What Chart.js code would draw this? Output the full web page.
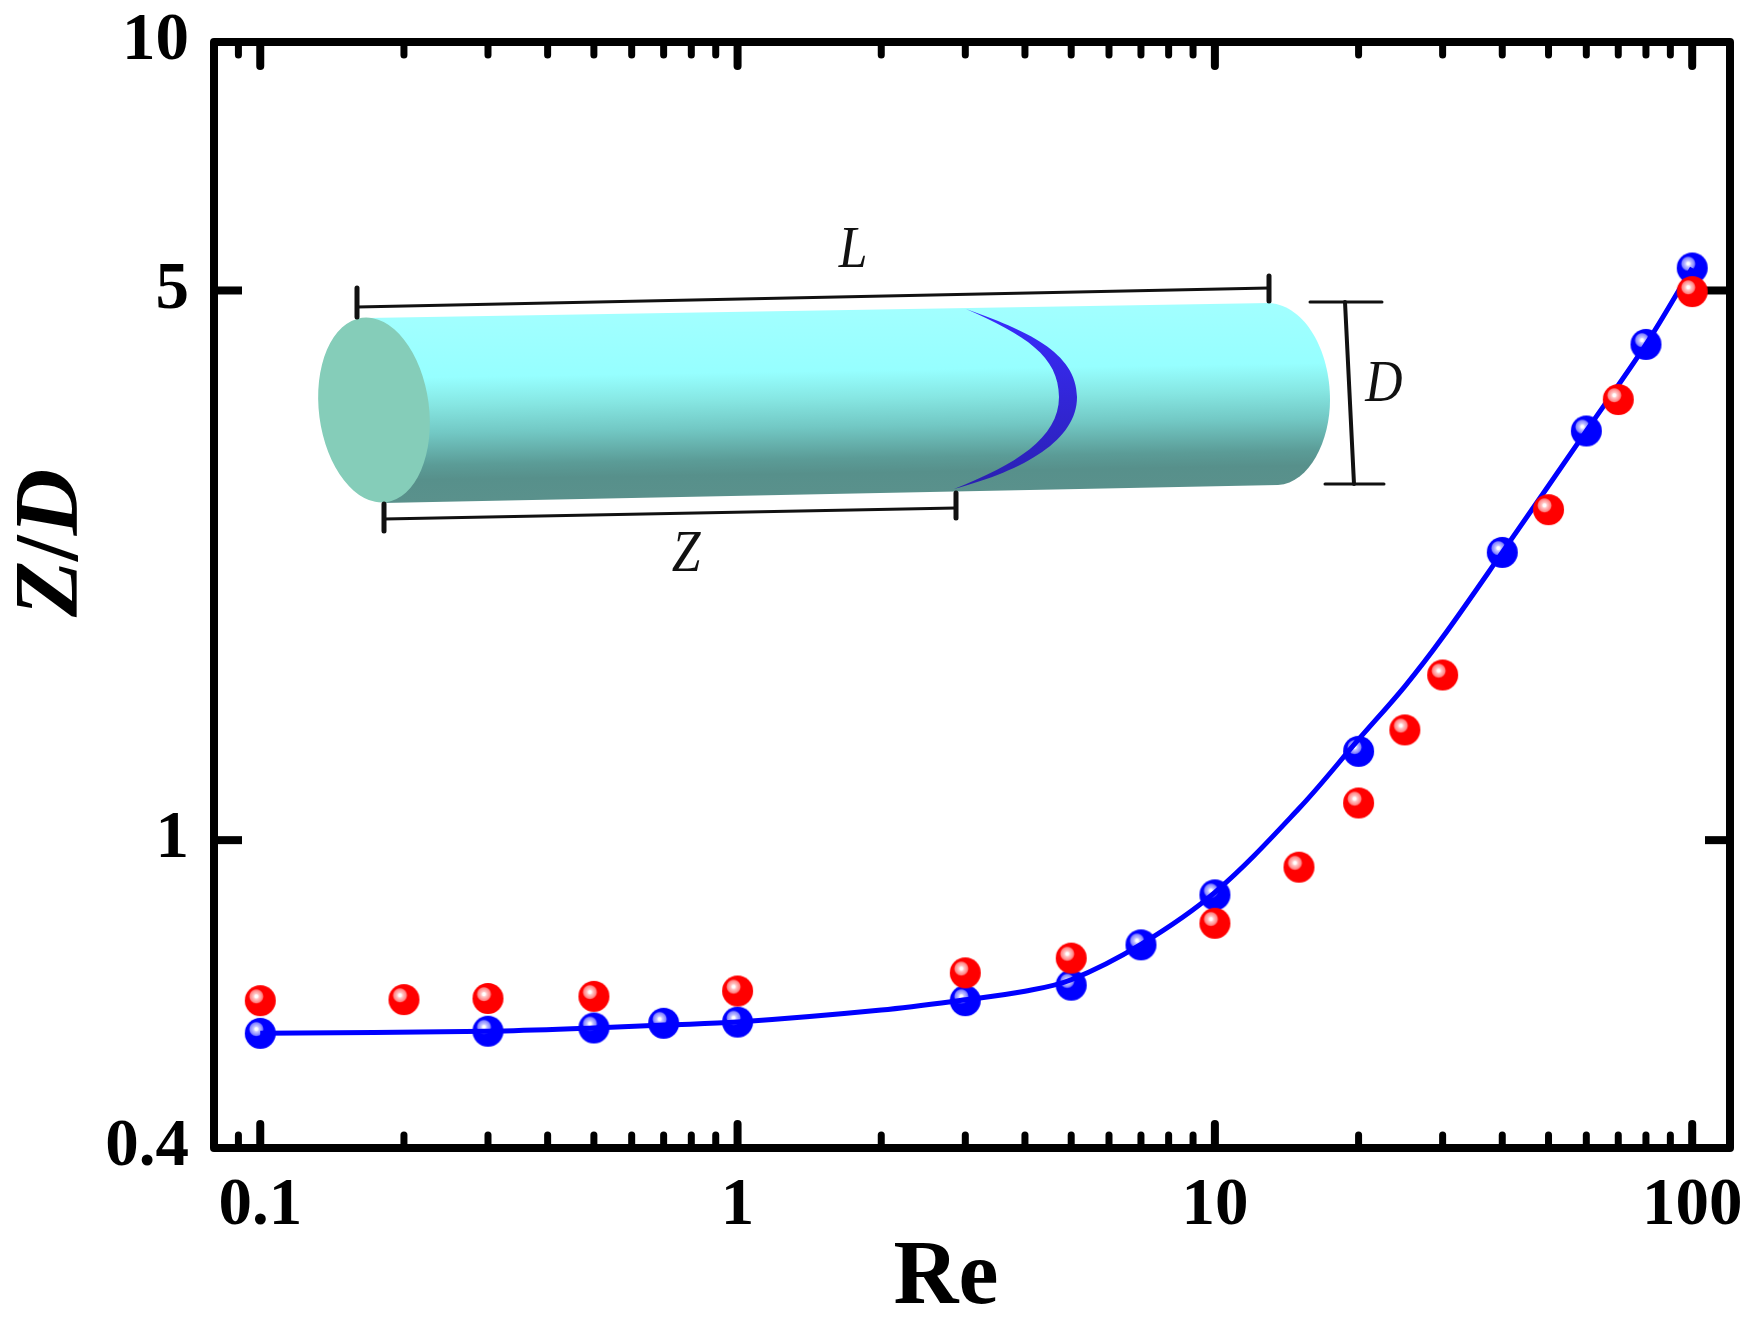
<!DOCTYPE html>
<html><head><meta charset="utf-8">
<style>html,body{margin:0;padding:0;background:#fff}canvas{display:block}</style>
<script src="https://cdn.jsdelivr.net/npm/chart.js@4/dist/chart.umd.js"></script>
</head><body><canvas id="c" width="1760" height="1328"></canvas>
<script>
const blueRe=[0.1,0.3,0.5,0.7,1,3,5,7,10,20,40,60,80,100];
const blueZD=[0.568,0.5715,0.577,0.585,0.587,0.625,0.654,0.736,0.852,1.297,2.322,3.314,4.27,5.341];
const redRe=[0.1,0.2,0.3,0.5,1,3,5,10,15,20,25,30,50,70,100];
const redZD=[0.625,0.627,0.629,0.633,0.643,0.678,0.708,0.784,0.924,1.115,1.381,1.622,2.632,3.633,4.984];
const curveRe=[0.1,0.3,0.5,0.7,1,2,3,4,5,7,10,15,20,25,30,40,60,80,100];
const curveZD=[0.568,0.5715,0.577,0.582,0.587,0.608,0.6265,0.6425,0.6645,0.737,0.8583,1.097,1.343,1.569,1.811,2.322,3.314,4.27,5.341];
const xMajor=[0.1,1,10,100];
const xMinor=[0.09,0.2,0.3,0.4,0.5,0.6,0.7,0.8,0.9,2,3,4,5,6,7,8,9,20,30,40,50,60,70,80,90];
const xLabels=['0.1','1','10','100'];
const yTickValues=[0.406,1,5,10.35];
const yLabels=['0.4','1','5','10'];
const yMarks=[1,5];
const xTitle='Re', yTitle=['Z','/','D'];

function sphere(base,mid,light){
  const s=document.createElement('canvas');s.width=s.height=33;
  const g=s.getContext('2d');
  g.fillStyle=base;g.beginPath();g.arc(16.5,16.5,15.5,0,7);g.fill();
  const r=g.createRadialGradient(12.5,12.2,0,12.5,12.2,7.5);
  r.addColorStop(0,'#fff');r.addColorStop(.2,'#fff');r.addColorStop(.36,light);r.addColorStop(.84,mid);r.addColorStop(1,mid.replace(/[\d.]+\)$/,'0)'));
  g.fillStyle=r;g.beginPath();g.arc(12.5,12.2,7.5,0,7);g.fill();
  return s;
}
const redS=sphere('#ff0000','rgba(255,130,130,1)','#ffc8c8');
const blueS=sphere('#0000ff','rgba(130,130,255,1)','#c8c8ff');

function line(c,a,b,d,e,w){c.lineWidth=w;c.beginPath();c.moveTo(a,b);c.lineTo(d,e);c.stroke();}
function label(c,t,x,y){c.save();c.translate(x,y);c.scale(.86,1);c.fillText(t,0,0);c.restore();}
const frame={id:'frame',beforeDatasetsDraw(ch){
  const c=ch.ctx,A=ch.chartArea,X=ch.scales.x,Y=ch.scales.y;
  c.save();
  c.save();
  const body=new Path2D();
  body.moveTo(367,318);body.lineTo(1270,303);
  body.bezierCurveTo(1305,306,1330,350,1330,400);
  body.bezierCurveTo(1330,440,1310,483,1278,485);
  body.lineTo(383,503);body.closePath();
  const gr=c.createLinearGradient(800,310,803,496);
  [[0,'#a2ffff'],[.33,'#96ffff'],[.48,'#86e6e2'],[.63,'#72c8c4'],[.8,'#5b9c97'],[.88,'#57908b'],[1,'#5a918c']].forEach(p=>gr.addColorStop(p[0],p[1]));
  c.fillStyle=gr;c.fill(body);
  c.beginPath();c.ellipse(374,410,55,93,-0.13,0,7);c.fillStyle='#85cdb9';c.fill();
  const cg=c.createLinearGradient(0,309,0,489);cg.addColorStop(0,'#3a2cff');cg.addColorStop(1,'#2a20b0');
  c.fillStyle=cg;c.beginPath();c.moveTo(966,309);
  c.bezierCurveTo(1025,330,1077,352,1077,397);
  c.bezierCurveTo(1077,440,1025,470,954,489);
  c.bezierCurveTo(1015,465,1059,438,1059,397);
  c.bezierCurveTo(1059,356,1025,335,966,309);
  c.closePath();c.fill();
  c.strokeStyle='#111';c.lineCap='round';
  line(c,357,307,1269,288,3);line(c,357,288,357,317,5);line(c,1269,276,1269,301,5);
  line(c,384,519,956,508,3);line(c,384,504,384,531,5);line(c,956,493,956,518,5);
  line(c,1345,302,1354,484,4);line(c,1310,302,1382,302,3);line(c,1325,484,1384,484,3);
  c.fillStyle='#111';c.font='italic 60px "Liberation Serif"';c.textAlign='center';c.textBaseline='middle';
  label(c,'L',853,251);label(c,'Z',686,555);label(c,'D',1384,385);
  c.restore();
  c.strokeStyle='#000';c.lineCap='butt';c.lineJoin='round';c.lineWidth=8;
  c.strokeRect(A.left,A.top,A.right-A.left,A.bottom-A.top);
  c.lineCap='round';
  xMajor.forEach(v=>{const p=X.getPixelForValue(v);
    line(c,p,A.bottom,p,A.bottom-24,8);line(c,p,A.top,p,A.top+24,8);});
  xMinor.forEach(v=>{const p=X.getPixelForValue(v);
    line(c,p,A.bottom,p,A.bottom-13,7);line(c,p,A.top,p,A.top+13,7);});
  yMarks.forEach(v=>{const p=Y.getPixelForValue(v);
    c.lineCap='butt';line(c,A.left,p,A.left+28,p,8);line(c,A.right,p,A.right-25,p,8);c.lineCap='round';});
  c.restore();
},afterDraw(ch){
  const c=ch.ctx;c.save();c.fillStyle='#000';c.textBaseline='middle';c.textAlign='center';
  c.font='bold 90px "Liberation Serif"';c.fillText(xTitle,946,1280);
  c.translate(53,543);c.rotate(-Math.PI/2);
  const fonts=['italic bold 92px "Liberation Serif"','bold 92px "Liberation Serif"','italic bold 92px "Liberation Serif"'];
  let tot=0;const w=yTitle.map((t,i)=>{c.font=fonts[i];const m=c.measureText(t).width;tot+=m;return m;});
  let x=-tot/2;c.textAlign='left';
  yTitle.forEach((t,i)=>{c.font=fonts[i];c.fillText(t,x,0);x+=w[i];});
  c.restore();
}};
const tickFont={family:'"Liberation Serif"',weight:'bold',size:67};
const noPad=s=>{s.paddingTop=s.paddingBottom=s.paddingLeft=s.paddingRight=0;};
new Chart(document.getElementById('c'),{
  type:'scatter',
  data:{datasets:[
    {label:'simulation markers',data:blueRe.map((x,i)=>({x,y:blueZD[i]})),pointStyle:blueS,order:3,showLine:false},
    {label:'fit',data:curveRe.map((x,i)=>({x,y:curveZD[i]})),showLine:true,borderColor:'#0000ff',borderWidth:5,tension:0.35,pointRadius:0,order:2},
    {label:'experiment',data:redRe.map((x,i)=>({x,y:redZD[i]})),pointStyle:redS,order:1,showLine:false}
  ]},
  options:{
    responsive:false,animation:false,devicePixelRatio:1,
    layout:{padding:{left:0,right:30,top:42,bottom:0}},
    plugins:{legend:{display:false},title:{display:false},tooltip:{enabled:false}},
    scales:{
      x:{type:'logarithmic',min:0.08,max:120,
        grid:{display:false},border:{display:false},
        afterBuildTicks:s=>{s.ticks=xMajor.map(v=>({value:v}));},
        afterFit:s=>{s.height=180;noPad(s);},
        ticks:{autoSkip:false,maxRotation:0,padding:10,color:'#000',font:tickFont,callback:(v,i)=>xLabels[i]}},
      y:{type:'logarithmic',min:yTickValues[0],max:yTickValues[3],
        grid:{display:false},border:{display:false},
        afterBuildTicks:s=>{s.ticks=yTickValues.map(v=>({value:v}));},
        afterFit:s=>{s.width=214;noPad(s);},
        ticks:{autoSkip:false,padding:17,color:'#000',font:tickFont,callback:(v,i)=>yLabels[i]}}
    }
  },
  plugins:[frame]
});
</script></body></html>
